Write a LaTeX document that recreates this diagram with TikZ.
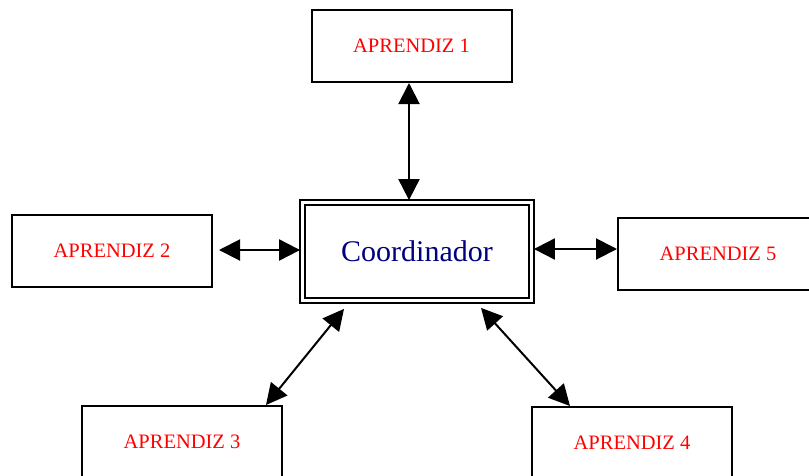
\documentclass[tikz,border=0pt]{standalone}
\usepackage{fontspec}
\setmainfont{Liberation Serif}
\usetikzlibrary{arrows.meta}
\definecolor{navyblue}{RGB}{0,0,128}
\tikzset{
  learner/.style={draw, line width=2pt, minimum width=200pt, minimum height=72pt,
    inner sep=0pt, text=red, font=\fontsize{20.5}{24}\selectfont},
  hub/.style={draw, double, double distance=3pt, line width=1.8pt,
    minimum width=229pt, minimum height=98pt, outer sep=2.4pt, inner sep=0pt,
    text=navyblue, font=\fontsize{30}{34}\selectfont},
  link/.style={line width=2pt,
    {Triangle[length=21pt,width=21pt]}-{Triangle[length=21pt,width=21pt]}}
}
\begin{document}
\begin{tikzpicture}[x=1pt,y=-1pt]
  \path[use as bounding box, clip] (0,0) rectangle (809,475);
  \fill[white] (0,0) rectangle (809,475);

  % central coordinator and the five learners around it
  \node[hub] (c) at (417,251.5) {Coordinador};
  \node[learner] (a1) at (411.5,46) {APRENDIZ 1};
  \node[learner] (a2) at (112,250.5) {APRENDIZ 2};
  \node[learner] (a3) at (182,442) {APRENDIZ 3};
  \node[learner] (a4) at (632,443) {APRENDIZ 4};
  \node[learner] (a5) at (718,254) {APRENDIZ 5};

  % two-way links
  \draw[link] ([xshift=-2.5pt]a1.south) -- ([xshift=-2.5pt]a1.south |- c.north);
  \draw[link] ([xshift=6pt]a2.east |- 0,250) -- (c.west |- 0,250);
  \draw[link] (c.east |- 0,249) -- (a5.west |- 0,249);
  \draw[link] ([xshift=-73pt,yshift=-6pt]c.south) -- ([xshift=84pt]a3.north);
  \draw[link] ([xshift=64pt,yshift=-5pt]c.south) -- ([xshift=-62pt]a4.north);
\end{tikzpicture}
\end{document}
